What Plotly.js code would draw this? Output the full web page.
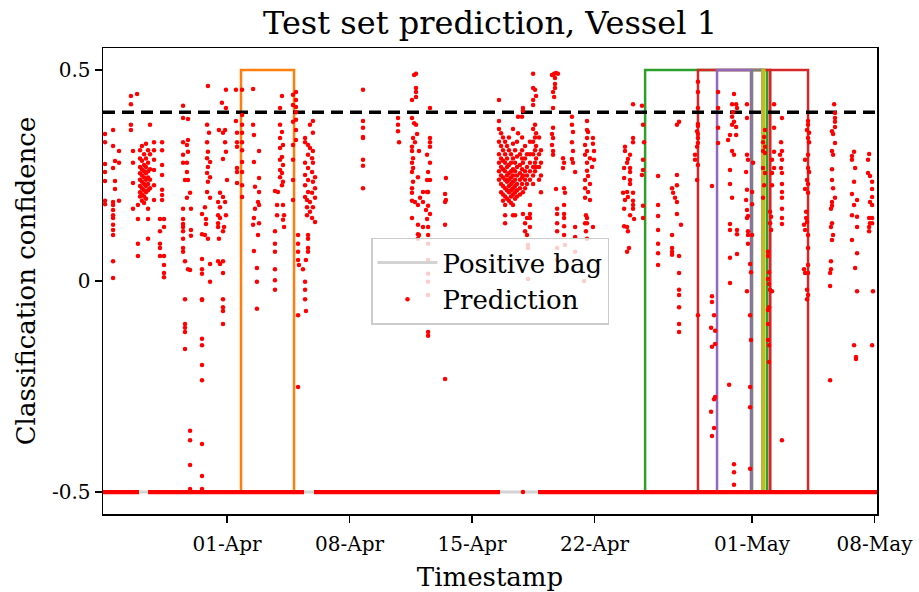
<!DOCTYPE html>
<html>
<head>
<meta charset="utf-8">
<script src="https://cdn.plot.ly/plotly-3.0.1.min.js"></script>
<style>html,body{margin:0;padding:0;background:#fff;}</style>
</head>
<body>
<div id="chart" style="width:919px;height:592px;"></div>
<script>
// ---- Data (days counted from 2021-03-25 00:00; values = classification confidence) ----
const startDate = '2021-03-25';
const axisDays = [-0.086, 44.14];
const threshold = 0.4;
const bagHigh = 0.5;
const bagLow = -0.5;

// timeline of the "Positive bag" label series (label = 0 level)
const timelineDays = [-0.086, 44.14];

// positive bags (start/end in days)
const bagStart = [7.8, 30.89, 33.91, 35.0, 37.0, 37.6, 38.03];
const bagEnd   = [10.83, 37.86, 38.03, 36.94, 37.6, 37.7, 40.2];
const bagColors = ['#ff7f0e', '#2ca02c', '#d62728', '#9467bd', '#7f7f7f', '#bcbd22', '#d62728'];

// predictions sitting at the -0.5 floor (dense runs of points)
const floorValue = -0.5;
const floorRunStart = [-0.086, 2.49, 11.97, 24.77];
const floorRunEnd   = [1.97, 11.4, 22.6, 44.14];

// predictions: [day, [values at that time]]
const predMarch = [
[0.03,[0.348,0.329,0.277,0.258,0.237,0.19,0.182]],
[0.49,[0.358,0.32,0.268,0.187,0.18,0.168,0.156,0.149,0.133,0.121,0.109,0.047,0.007]],
[0.6,[0.284,0.237,0.218]],
[0.83,[0.308,0.28,0.19]],
[1.51,[0.438,0.419,0.37,0.358]],
[1.63,[0.308,0.28,0.232,0.171]],
[1.86,[0.443]],
[1.91,[0.18,0.147,0.088,0.059]],
[2.03,[0.31,0.29,0.27,0.255,0.24,0.225,0.21,0.2]],
[2.14,[0.32,0.285,0.265,0.25,0.235,0.22,0.205,0.19]],
[2.26,[0.3,0.275,0.26,0.245,0.23,0.215,0.2,0.185]],
[2.37,[0.325,0.29,0.27,0.255,0.24,0.225,0.21,0.195]],
[2.49,[0.31,0.28,0.26,0.245,0.23,0.215,0.171,0.147,0.1]],
[2.6,[0.37,0.3,0.265,0.24,0.22]],
[2.83,[0.329,0.31,0.287,0.263,0.227,0.192]],
[3.17,[0.147,0.118,0.088,0.078,0.059]],
[3.29,[0.329,0.31,0.275,0.251,0.216,0.204,0.192]],
[3.4,[0.147,0.128,0.059,0.038,0.019,0.009]],
[4.49,[0.415,0.386,0.329,0.299,0.28,0.171,0.147,0.135,0.128,0.118,0.1,0.078,0.069]],
[4.6,[0.239,0.047,-0.043,-0.102,-0.111,-0.121,-0.161]],
[4.71,[0.322,0.28,0.258,0.197]],
[4.77,[0.384,0.334,0.306,0.239,0.028]],
[4.89,[0.209,0.026,-0.355,-0.377,-0.436,-0.493]],
[4.94,[0.171,0.121,0.107]],
[5.57,[0.159,0.111,0.052,0.028,0.017,-0.043,-0.045,-0.137,-0.152,-0.199,-0.235,-0.386,-0.462,-0.493]],
[5.74,[0.175,0.109]],
[5.8,[0.147,0.135]],
[5.86,[0.37,0.329,0.291,0.256,0.211]],
[5.91,[0.462,0.306,0.27,0.235,0.1]],
[5.97,[0.351]],
[6.03,[0.282,0.246,0.197,0.04,-0.002]],
[6.49,[0.187,0.156,0.137,0.128,0.047]],
[6.54,[0.358,0.1]],
[6.6,[0.209,0.175,0.149,0.04]],
[6.71,[0.422]],
[6.77,[0.351,0.289,0.199,0.118,0.047,0.019,-0.043,-0.062,-0.071,-0.102]],
[6.83,[0.128]],
[6.89,[0.358,0.329,0.187]],
[6.94,[0.453,0.41,0.306,0.156]],
[7.0,[0.239]]
];

const predAprilEarly = [
[7.51,[0.453,0.379]],
[7.57,[0.351,0.329,0.318,0.268,0.258,0.232]],
[7.86,[0.453,0.393,0.37,0.351,0.329,0.31,0.282,0.258,0.227,0.199]],
[8.49,[0.455,0.37,0.133]],
[8.54,[0.346,0.282,0.149,0.071]],
[8.6,[0.223,0.171]],
[8.71,[0.031,-0.002,-0.066]],
[8.77,[0.187,0.109]],
[8.83,[0.308,0.244,0.211,0.18,0.137]],
[9.74,[0.213,0.118,0.088,0.069,0.028,0.002,-0.021]],
[9.86,[0.18,0.156]],
[9.91,[0.211]],
[10.03,[0.41,0.37,0.339,0.315,0.287,0.263,0.246]],
[10.14,[0.438,0.353,0.294,0.256,0.227]],
[10.2,[0.322,0.275,0.235,0.18,0.145]],
[10.26,[0.156,0.128]],
[10.77,[0.441,0.417,0.377,0.322,0.287,0.239,0.192]],
[10.94,[0.448,0.429,0.412,0.4,0.382,0.358,0.334]],
[11.06,[0.109,0.088,0.069,0.05,-0.081,-0.251]],
[11.11,[0.038]],
[11.34,[0.028]],
[11.46,[0.339,0.329,0.28,0.251,0.227,0.199,-0.002,-0.021,-0.043]],
[11.51,[0.05,-0.071]],
[11.57,[0.192,0.175,0.156]],
[11.63,[0.322,0.299,0.268,0.239,0.211,0.109,0.1,0.078,0.069]],
[11.74,[0.37,0.315,0.187,0.164]],
[11.86,[0.291,0.258,0.209,0.149]],
[11.91,[0.379,0.351,0.308,0.28,0.235,0.175]],
[12.03,[0.246,0.22,0.197,0.14]],
[14.77,[0.453,0.379,0.363,0.341,0.339,0.287,0.273,0.22]],
[16.77,[0.386,0.37,0.355]],
[16.83,[0.329]],
[17.57,[0.429,0.386,0.318,0.308,0.28,0.258,0.22,0.209,0.19,0.149]],
[17.63,[0.339,0.291,0.268,0.235]],
[17.69,[0.488,0.374]],
[17.74,[0.329,0.187]],
[17.8,[0.491,0.457,0.448,0.436,0.37]],
[17.86,[0.348]],
[17.91,[0.246,0.18,0.133,0.111,0.1]],
[17.97,[0.308,0.109]],
[18.03,[0.197]],
[18.2,[0.211,0.187,0.128]],
[18.37,[0.168]],
[18.43,[0.299,0.239,0.211,0.147]],
[18.49,[0.258,0.211,0.178,0.128,0.109,0.088,0.05,0.017,-0.002,-0.033,-0.121,-0.13]],
[18.6,[0.41,0.339,0.329,0.318,0.28,0.239,0.159]],
[19.46,[0.206,0.187,0.133,-0.232]],
[19.51,[0.244,0.192]]
];

const predAprilLate = [
[22.54,[0.429,0.379,0.36,0.33,0.3,0.28,0.26,0.24]],
[22.66,[0.35,0.32,0.29,0.27,0.25,0.23,0.21]],
[22.77,[0.34,0.31,0.285,0.265,0.245,0.225,0.205,0.19]],
[22.89,[0.33,0.3,0.28,0.26,0.24,0.22,0.2,0.18,0.156,0.137]],
[23.0,[0.32,0.29,0.27,0.25,0.235,0.215,0.195]],
[23.11,[0.34,0.31,0.275,0.255,0.24,0.225,0.21,0.19]],
[23.23,[0.3,0.28,0.26,0.245,0.23,0.215,0.2,0.185]],
[23.34,[0.36,0.325,0.29,0.265,0.25,0.235,0.22,0.205,0.18,0.156]],
[23.46,[0.31,0.28,0.26,0.24,0.225,0.21,0.195,0.156]],
[23.57,[0.33,0.295,0.27,0.25,0.23,0.215,0.2]],
[23.63,[0.389,0.35]],
[23.74,[0.3,0.275,0.255,0.24,0.22,0.205]],
[23.86,[0.389,0.34,0.31,0.29,0.265,0.245,0.23]],
[23.91,[0.41,0.403,0.28,0.25,0.21,0.159,-0.5]],
[24.03,[0.32,0.29,0.26,0.24,0.22,0.137,0.118]],
[24.14,[0.3,0.27,0.25,0.23,0.149,0.109]],
[24.2,[0.085,0.078,0.005]],
[24.31,[0.33,0.3,0.28,0.26,0.24,0.18,0.159,0.149,0.128]],
[24.49,[0.491,0.457,0.429,0.417,0.36,0.33,0.3,0.27,0.25,0.23]],
[24.6,[0.453,0.37,0.34,0.31,0.28,0.26]],
[24.66,[0.438,0.35,0.32,0.29,0.27]],
[24.83,[0.34,0.3,0.27,0.24]],
[24.94,[0.31,0.28,0.25,0.21]],
[25.57,[0.488,0.348,0.322]],
[25.63,[0.448,0.41,0.363,0.339,0.308,0.299]],
[25.69,[0.491,0.436]],
[25.74,[0.481,0.467,0.457]],
[25.8,[0.493,0.218]],
[25.86,[0.171,0.159,0.137,0.118,0.078,0.05]],
[25.91,[0.491]],
[26.2,[0.291,0.268]],
[26.26,[0.28,0.22,0.18,0.159,0.149,0.13,0.109]],
[26.31,[0.209,0.085]],
[26.71,[0.389,0.37,0.329,0.289]],
[26.77,[0.353,0.308,0.28]],
[26.89,[0.258,0.128,0.104,0.069]],
[27.4,[0.0]],
[27.46,[0.322,0.299,0.239,0.22,0.197,0.137]],
[27.51,[0.156,0.118]],
[27.57,[0.379,0.358,0.339,0.308,0.28,0.261,0.149,0.137,0.1]],
[27.63,[0.353,0.249,0.211]],
[27.74,[0.291,0.23,0.192]],
[27.86,[0.27]],
[27.91,[0.339,0.325,0.128]],
[27.97,[0.308,0.287]],
[29.63,[0.209]],
[29.69,[0.268,0.244,0.171,0.13]],
[29.74,[0.318,0.308,0.192]],
[29.86,[0.28,0.211,0.128,0.069]],
[29.91,[0.289,0.199,0.118]],
[29.97,[0.078]],
[30.03,[0.299,0.268,0.258,0.239,0.23,0.156]],
[30.2,[0.419,0.339,0.329,0.209,0.19,0.18,0.171]],
[30.26,[0.147]],
[30.71,[0.415,0.251]],
[30.77,[0.37,0.287,0.263,0.178,0.149]],
[30.83,[0.329]],
[31.63,[0.249,0.18,0.154,0.121,0.088,0.066,0.038]],
[32.43,[0.22,0.109,0.078,0.069,0.062]],
[32.49,[0.209]],
[32.6,[0.197]],
[32.71,[0.37,0.251,0.227,0.187,0.159]],
[32.83,[0.377,0.059,0.019,-0.021,-0.033,-0.062,-0.102,-0.121]],
[32.94,[0.133]],
[33.74,[0.299,0.287]],
[33.86,[0.355,0.318,0.239]],
[33.91,[0.472,0.448,0.41,0.372,0.367,0.348,0.339,0.327,0.275,-0.081]],
[34.66,[-0.111,-0.31]],
[34.71,[0.225,-0.036,-0.05,-0.156,-0.367]],
[34.83,[-0.081,-0.28,-0.348]],
[34.89,[-0.118,-0.149,-0.275]]
];

const predMay = [
[35.06,[0.448,0.41,0.363,0.327]],
[35.63,[0.334]],
[35.69,[-0.246]],
[35.74,[0.346,0.263,0.23,0.135,0.121,0.055,-0.005]],
[35.86,[0.419,0.389,0.37,0.308,0.197]],
[35.91,[0.4]],
[35.97,[0.443,0.377,0.299,-0.434,-0.453,-0.483]],
[36.09,[0.419,0.365,0.346]],
[36.14,[0.41,0.121,0.111,0.064]],
[36.66,[0.258,0.192]],
[36.71,[0.419,0.386,0.299,0.216,0.168,0.149,-0.024]],
[36.77,[0.287,0.154,0.118,0.109,0.088]],
[36.89,[0.04,-0.081,-0.251,-0.299,-0.445]],
[36.94,[0.021,-0.14]],
[37.0,[0.211,0.182,0.109]],
[37.06,[0.28]],
[37.63,[0.329,0.308,0.268,0.197]],
[37.69,[0.341,0.227]],
[37.74,[0.358,0.318,0.303,0.256]],
[37.91,[0.069,0.059,0.005,-0.069,-0.102,-0.14]],
[37.97,[0.021,-0.007,-0.062,-0.152,-0.192]],
[38.03,[0.164,0.137,-0.021]],
[38.09,[0.152,0.121]],
[38.14,[0.287,0.256,0.227,-0.024]],
[38.26,[0.419,0.363,0.306,0.268]],
[38.6,[0.299]],
[38.66,[0.329,0.268]],
[38.71,[0.386,0.308,0.287,0.256,0.23,0.211,0.197,0.171,0.149,0.135,-0.377]],
[39.97,[0.133,0.028]],
[40.03,[0.287,0.218,0.121,0.019]],
[40.09,[0.164,0.149]],
[40.14,[0.358,0.239,0.14,-0.021,-0.043]],
[40.2,[0.379,0.37,0.339,0.299,0.268,0.23,0.209,0.109,0.078,0.038,0.019,-0.033]],
[40.26,[0.351,0.329,0.258]],
[41.46,[0.019,-0.012,-0.235]],
[41.51,[0.171,0.128,0.047,0.028]],
[41.57,[0.355,0.308,0.265,0.239,0.187,0.178,0.137,0.097]],
[41.63,[0.348,0.299,0.22,0.109]],
[41.69,[0.419]],
[41.74,[0.398,0.386,0.377,0.365,0.327,0.197]],
[42.71,[0.296,0.287,0.206,0.156,0.097]],
[42.83,[0.306,0.235,0.18,-0.152]],
[42.89,[0.268,0.031]],
[42.94,[-0.18,-0.185]],
[43.0,[0.192,0.152,0.128,0.066,-0.024]],
[43.63,[0.287,0.256]],
[43.69,[0.301,0.149,0.128,0.118]],
[43.74,[0.249,0.187,0.137]],
[43.86,[0.235,0.218,0.199,0.18,0.149,0.137,-0.152]],
[43.91,[-0.024]]
];

const xTickDates = ['2021-04-01','2021-04-08','2021-04-15','2021-04-22','2021-05-01','2021-05-08'];
const yTickVals = [0.5, 0, -0.5];
const yTickText = ['0.5', '0', '-0.5'];

// ---- helpers ----
const baseMs = Date.parse(startDate + 'T00:00:00Z');
function dayToDate(d) {
  const t = new Date(baseMs + d * 86400000);
  const p = n => String(n).padStart(2, '0');
  return t.getUTCFullYear() + '-' + p(t.getUTCMonth() + 1) + '-' + p(t.getUTCDate()) + ' ' +
         p(t.getUTCHours()) + ':' + p(t.getUTCMinutes()) + ':' + p(t.getUTCSeconds());
}

const px = [], py = [];
[predMarch, predAprilEarly, predAprilLate, predMay].forEach(group => {
  group.forEach(([d, vals]) => {
    vals.forEach(v => { px.push(dayToDate(d)); py.push(v); });
  });
});

const floorX = [], floorY = [];
floorRunStart.forEach((s, i) => {
  floorX.push(dayToDate(s), dayToDate(floorRunEnd[i]), null);
  floorY.push(floorValue, floorValue, null);
});

const traces = [];
traces.push({
  type: 'scatter', mode: 'lines', name: 'Positive bag',
  x: timelineDays.map(dayToDate), y: timelineDays.map(() => bagLow),
  line: {color: '#d3d3d3', width: 3}, hoverinfo: 'skip'
});
bagStart.forEach((s, i) => {
  traces.push({
    type: 'scatter', mode: 'lines', showlegend: false,
    x: [dayToDate(s), dayToDate(s), dayToDate(bagEnd[i]), dayToDate(bagEnd[i])],
    y: [bagLow, bagHigh, bagHigh, bagLow],
    line: {color: bagColors[i], width: 2.5}, hoverinfo: 'skip'
  });
});
traces.push({
  type: 'scatter', mode: 'lines', showlegend: false,
  x: axisDays.map(dayToDate), y: axisDays.map(() => threshold),
  line: {color: 'black', width: 3.5, dash: '12px,7px'}, hoverinfo: 'skip'
});
traces.push({
  type: 'scatter', mode: 'lines', showlegend: false,
  x: floorX, y: floorY, connectgaps: false,
  line: {color: '#ff0000', width: 4.2}, hoverinfo: 'skip'
});
traces.push({
  type: 'scatter', mode: 'markers', name: 'Prediction',
  x: px, y: py,
  marker: {color: '#ff0000', size: 4.5, line: {width: 0}}
});

const layout = {
  width: 919, height: 592,
  margin: {l: 103, r: 42, t: 48, b: 78},
  paper_bgcolor: 'white', plot_bgcolor: 'white',
  font: {family: 'DejaVu Serif', color: 'black'},
  title: {text: 'Test set prediction, Vessel 1', x: 0.5, xref: 'paper', xanchor: 'center',
          y: 1 - 23 / 592, yanchor: 'middle', font: {size: 32, family: 'DejaVu Serif', color: 'black'}},
  xaxis: {
    type: 'date', range: axisDays.map(dayToDate),
    tickmode: 'array', tickvals: xTickDates, tickformat: '%d-%b',
    showline: true, mirror: true, linecolor: 'black', linewidth: 1.5,
    ticks: 'outside', ticklen: 7, tickwidth: 1.5, tickcolor: 'black',
    ticklabelstandoff: 4,
    showgrid: false, zeroline: false,
    tickfont: {size: 20, family: 'DejaVu Serif', color: 'black'},
    title: {text: 'Timestamp', font: {size: 26, family: 'DejaVu Serif', color: 'black'}, standoff: 14}
  },
  yaxis: {
    range: [-0.552, 0.552],
    tickmode: 'array', tickvals: yTickVals, ticktext: yTickText,
    showline: true, mirror: true, linecolor: 'black', linewidth: 1.5,
    ticks: 'outside', ticklen: 7, tickwidth: 1.5, tickcolor: 'black',
    showgrid: false, zeroline: false,
    tickfont: {size: 20, family: 'DejaVu Serif', color: 'black'},
    title: {text: 'Classification confidence', font: {size: 26, family: 'DejaVu Serif', color: 'black'}, standoff: 9}
  },
  legend: {
    x: 0.5, y: 0.5, xanchor: 'center', yanchor: 'middle',
    bgcolor: 'rgba(255,255,255,0.8)', bordercolor: '#cccccc', borderwidth: 1.5,
    font: {size: 26, family: 'DejaVu Serif', color: 'black'}, itemwidth: 60
  },
  showlegend: true
};

Plotly.newPlot('chart', traces, layout, {staticPlot: true, displayModeBar: false});
</script>
</body>
</html>
